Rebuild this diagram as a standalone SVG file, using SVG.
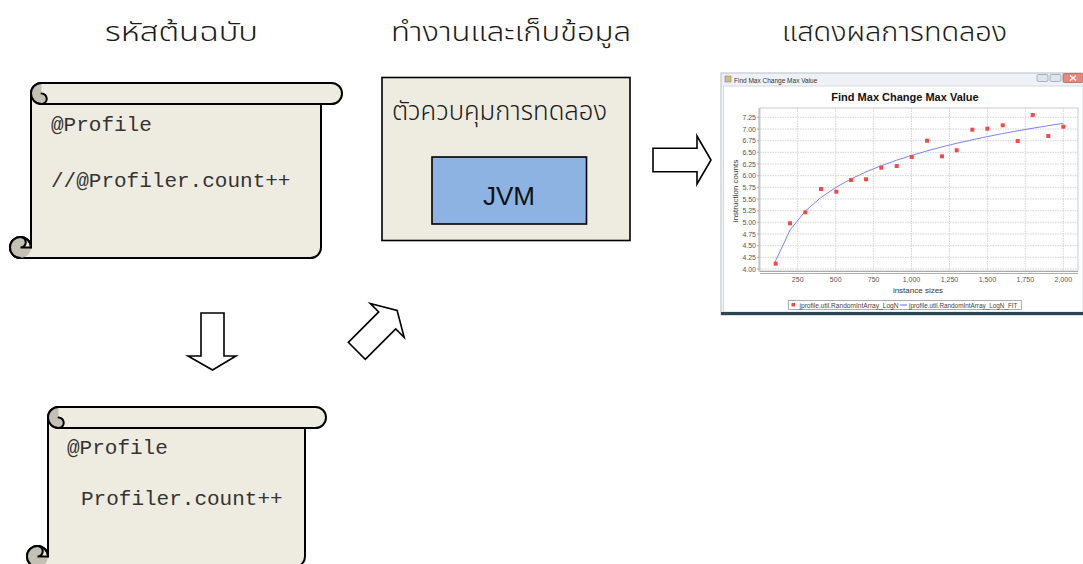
<svg xmlns="http://www.w3.org/2000/svg" width="1083" height="564" viewBox="0 0 1083 564">
<style>
.scroll{fill:#EEECE1;stroke:#000;stroke-width:2;stroke-linejoin:round}
.curl{fill:#C4C1B4;stroke:none}
.ln{fill:none;stroke:#000;stroke-width:2;stroke-linecap:round}
.code{font-family:"Courier New","Liberation Mono",monospace;font-size:21px;fill:#333}
.th{font-family:"Noto Sans Thai","Tahoma","Noto Sans",sans-serif;font-size:26px;font-weight:300;fill:#1a1a1a}
.arrow{fill:#fff;stroke:#000;stroke-width:1.6;stroke-linejoin:miter}
.ax{font-family:"Liberation Sans",Arial,sans-serif;font-size:7px;fill:#555}
.grid{stroke:#c8c8c8;stroke-width:0.8;stroke-dasharray:1.5 1}
.pt{fill:#f24a4a}
</style>
<rect width="1083" height="564" fill="#fff"/>

<g id="headings">
<text class="th" x="105" y="41" textLength="153" lengthAdjust="spacingAndGlyphs">รหัสต้นฉบับ</text>
<text class="th" x="391" y="41" textLength="240" lengthAdjust="spacingAndGlyphs">ทำงานและเก็บข้อมูล</text>
<text class="th" x="782" y="41" textLength="225" lengthAdjust="spacingAndGlyphs">แสดงผลการทดลอง</text>
</g>

<g id="source-scroll">
<path class="scroll" d="M41.5,83 L331.5,83 A10.5,10.5 0 0 1 331.5,104 L321,104 L321,247.5 A10.5,10.5 0 0 1 310.5,258 L20.5,258 A10.5,10.5 0 1 1 31,247.5 L31,93.5 A10.5,10.5 0 0 1 41.5,83 Z"/>
<path class="curl" d="M41.5,93.5 A5.25,5.25 0 0 1 41.5,104 A10.5,10.5 0 0 1 41.5,83 Z"/>
<path class="curl" d="M20.5,237 A10.5,10.5 0 1 0 31,247.5 L20.5,247.5 A5.25,5.25 0 0 0 20.5,237 Z"/>
<path class="ln" d="M41.5,104 L321,104 M41.5,93.5 A5.25,5.25 0 0 1 41.5,104 M31,247.5 L20.5,247.5 A5.25,5.25 0 0 0 20.5,237"/>
<path class="ln" d="M41.5,104 A10.5,10.5 0 0 1 41.5,83 M20.5,258 A10.5,10.5 0 1 1 31,247.5"/>
<text class="code" x="51" y="131">@Profile</text>
<text class="code" x="51" y="187">//@Profiler.count++</text>
</g>

<g id="modified-scroll">
<path class="scroll" d="M58.5,407 L315.5,407 A10.5,10.5 0 0 1 315.5,428 L305,428 L305,556.5 A10.5,10.5 0 0 1 294.5,567 L37.5,567 A10.5,10.5 0 1 1 48,556.5 L48,417.5 A10.5,10.5 0 0 1 58.5,407 Z"/>
<path class="curl" d="M58.5,417.5 A5.25,5.25 0 0 1 58.5,428 A10.5,10.5 0 0 1 58.5,407 Z"/>
<path class="curl" d="M37.5,546 A10.5,10.5 0 1 0 48,556.5 L37.5,556.5 A5.25,5.25 0 0 0 37.5,546 Z"/>
<path class="ln" d="M58.5,428 L305,428 M58.5,417.5 A5.25,5.25 0 0 1 58.5,428 M48,556.5 L37.5,556.5 A5.25,5.25 0 0 0 37.5,546"/>
<path class="ln" d="M58.5,428 A10.5,10.5 0 0 1 58.5,407 M37.5,567 A10.5,10.5 0 1 1 48,556.5"/>
<text class="code" x="67" y="454">@Profile</text>
<text class="code" x="81" y="505">Profiler.count++</text>
</g>

<g id="controller">
<rect x="382" y="77.5" width="248" height="163" fill="#EEECE1" stroke="#000" stroke-width="1.6"/>
<text class="th" x="392" y="120" textLength="215" lengthAdjust="spacingAndGlyphs">ตัวควบคุมการทดลอง</text>
<g id="jvm">
<rect x="432" y="157" width="154.5" height="67" fill="#8DB3E2" stroke="#000" stroke-width="1.6"/>
<text x="509" y="205" text-anchor="middle" font-family="Liberation Sans, Arial, sans-serif" font-size="26" fill="#111">JVM</text>
</g>
</g>

<g id="connectors">
<path class="arrow" d="M201,313 L224,313 L224,356 L236,356 L212.5,370 L188,356 L201,356 Z"/>
<path class="arrow" d="M653,148.3 L697,148.3 L697,136 L711,160 L697,184 L697,171.7 L653,171.7 Z"/>
<path class="arrow" transform="translate(356.8,350.8) rotate(-45)" d="M0,-12 L43,-12 L43,-24 L57,0 L43,24 L43,12 L0,12 Z"/>
</g>

<g id="chart">
<rect x="721" y="73" width="362" height="242" fill="#f3f5f8" stroke="#b6bfc9" stroke-width="1"/>
<rect x="722" y="74" width="361" height="11" fill="#eef2f7"/>
<rect x="725" y="76" width="6" height="6" fill="#d9b878" stroke="#7b8ba0" stroke-width="0.6"/>
<text x="734" y="82.5" font-family="Liberation Sans, Arial, sans-serif" font-size="6.5" fill="#333">Find Max Change Max Value</text>
<rect x="1037" y="74.5" width="11" height="7" rx="1.5" fill="#dfe5ec" stroke="#8b98a8" stroke-width="0.7"/>
<rect x="1050" y="74.5" width="11" height="7" rx="1.5" fill="#dfe5ec" stroke="#8b98a8" stroke-width="0.7"/>
<rect x="1063" y="73.5" width="20" height="9" rx="1.5" fill="#e8887c" stroke="#b5544a" stroke-width="0.7"/>
<path d="M1070,75.5 L1076,80.5 M1076,75.5 L1070,80.5" stroke="#fff" stroke-width="1.2"/>
<rect x="723.5" y="86" width="359.5" height="226" fill="#fff" stroke="#c9cfd6" stroke-width="0.8"/>
<rect x="721" y="312" width="362" height="3" fill="#2b4550"/>
<text x="905" y="101" text-anchor="middle" font-family="Liberation Sans, Arial, sans-serif" font-size="11" font-weight="bold" fill="#111">Find Max Change Max Value</text>
<rect x="760" y="108" width="318" height="163" fill="#fff" stroke="#bdbdbd" stroke-width="0.8"/>
<g class="grid">
<path d="M760,117.3H1078 M760,129H1078 M760,140.7H1078 M760,152.3H1078 M760,164H1078 M760,175.7H1078 M760,187.3H1078 M760,199H1078 M760,210.7H1078 M760,222.3H1078 M760,234H1078 M760,245.7H1078 M760,257.3H1078 M760,269H1078"/>
<path d="M797.7,108V271 M835.7,108V271 M873.6,108V271 M911.5,108V271 M949.5,108V271 M987.4,108V271 M1025.3,108V271 M1063.3,108V271"/>
</g>
<path d="M760,271.5H1078 M760,273.5H1078 M759,108V272 M757,117.3h2 M757,129h2 M757,140.7h2 M757,152.3h2 M757,164h2 M757,175.7h2 M757,187.3h2 M757,199h2 M757,210.7h2 M757,222.3h2 M757,234h2 M757,245.7h2 M757,257.3h2 M757,269h2" stroke="#9a9a9a" stroke-width="0.8" fill="none"/>
<g class="ax" text-anchor="end">
<text x="756" y="119.8">7.25</text><text x="756" y="131.5">7.00</text><text x="756" y="143.2">6.75</text><text x="756" y="154.8">6.50</text><text x="756" y="166.5">6.25</text><text x="756" y="178.2">6.00</text><text x="756" y="189.8">5.75</text><text x="756" y="201.5">5.50</text><text x="756" y="213.2">5.25</text><text x="756" y="224.8">5.00</text><text x="756" y="236.5">4.75</text><text x="756" y="248.2">4.50</text><text x="756" y="259.8">4.25</text><text x="756" y="271.5">4.00</text>
</g>
<g class="ax" text-anchor="middle">
<text x="797.7" y="282">250</text><text x="835.7" y="282">500</text><text x="873.6" y="282">750</text><text x="911.5" y="282">1,000</text><text x="949.5" y="282">1,250</text><text x="987.4" y="282">1,500</text><text x="1025.3" y="282">1,750</text><text x="1063.3" y="282">2,000</text>
</g>
<text x="918" y="292.5" text-anchor="middle" font-family="Liberation Sans, Arial, sans-serif" font-size="8" fill="#333">instance sizes</text>
<text transform="translate(738,191) rotate(-90)" text-anchor="middle" font-family="Liberation Sans, Arial, sans-serif" font-size="8" fill="#333">instruction counts</text>
<polyline fill="none" stroke="#7f7ff5" stroke-width="1" points="775,262 790.2,229.9 805.3,211.1 820.5,197.8 835.7,187.5 850.9,179 866,171.9 881.2,165.7 896.4,160.3 911.6,155.4 926.7,151 941.9,146.9 957.1,143.2 972.3,139.8 987.4,136.6 1002.6,133.6 1017.8,130.8 1033,128.2 1048.1,125.7 1063.3,123.3"/>
<g class="pt">
<rect x="773.7" y="261.7" width="4" height="4"/><rect x="788" y="221.3" width="4" height="4"/><rect x="803.3" y="210.3" width="4" height="4"/><rect x="819" y="187" width="4" height="4"/><rect x="834.3" y="189.7" width="4" height="4"/><rect x="849" y="178" width="4" height="4"/><rect x="864" y="177.3" width="4" height="4"/><rect x="879.3" y="165.7" width="4" height="4"/><rect x="894.7" y="164" width="4" height="4"/><rect x="909.7" y="155" width="4" height="4"/><rect x="925" y="138.7" width="4" height="4"/><rect x="940" y="154.3" width="4" height="4"/><rect x="954.7" y="148.3" width="4" height="4"/><rect x="970.3" y="127.7" width="4" height="4"/><rect x="985.3" y="126.7" width="4" height="4"/><rect x="1000.7" y="123.3" width="4" height="4"/><rect x="1015.7" y="139" width="4" height="4"/><rect x="1030.7" y="113" width="4" height="4"/><rect x="1046.3" y="134" width="4" height="4"/><rect x="1061.3" y="124.7" width="4" height="4"/>
</g>
<rect x="788.5" y="300.5" width="233" height="9" fill="#fff" stroke="#8a8a8a" stroke-width="0.7"/>
<rect x="791.5" y="303" width="3.5" height="3.5" fill="#f24a4a"/>
<text x="799.5" y="307.5" font-family="Liberation Sans, Arial, sans-serif" font-size="6.5" fill="#444" textLength="99" lengthAdjust="spacingAndGlyphs">jprofile.util.RandomIntArray_LogN</text>
<path d="M900,305H907" stroke="#7f7ff5" stroke-width="1.2"/>
<text x="909" y="307.5" font-family="Liberation Sans, Arial, sans-serif" font-size="6.5" fill="#444" textLength="108.5" lengthAdjust="spacingAndGlyphs">jprofile.util.RandomIntArray_LogN_FIT</text>
</g>
</svg>
